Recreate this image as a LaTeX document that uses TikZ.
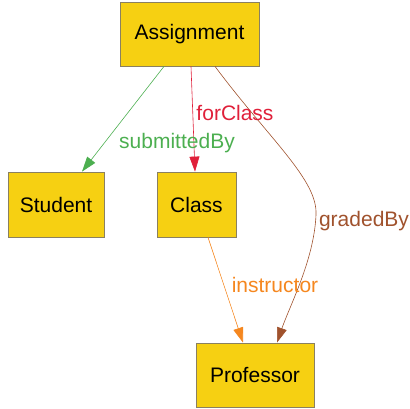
\documentclass[tikz,border=0pt]{standalone}
\usepackage{fontspec}
\setmainfont{Liberation Sans}
\usetikzlibrary{arrows.meta}
\definecolor{boxfill}{HTML}{F6D012}
\definecolor{boxline}{HTML}{8A8060}
\definecolor{cgreen}{HTML}{4CAF50}
\definecolor{cred}{HTML}{E0203A}
\definecolor{cbrown}{HTML}{A0522D}
\definecolor{corange}{HTML}{F5871F}
\tikzset{
  cls/.style={draw=boxline, fill=boxfill, line width=0.8pt, inner sep=0pt,
    font=\fontsize{21}{24}\selectfont, text=black},
  rel/.style={line width=0.6pt, -{Triangle[length=15pt,width=10pt]}},
  lbl/.style={font=\fontsize{21}{24}\selectfont, inner sep=0pt}
}
\begin{document}
\begin{tikzpicture}[x=1pt,y=-1pt]
\useasboundingbox (0,0) rectangle (410,408);
% classes
\node[cls, minimum width=139pt, minimum height=64pt] (asg) at (189.5,34) {Assignment};
\node[cls, minimum width=96pt, minimum height=65pt] (stu) at (56,204.5) {Student};
\node[cls, minimum width=79pt, minimum height=65pt] (cls) at (196.5,204.5) {Class};
\node[cls, minimum width=118pt, minimum height=64pt] (prof) at (255,375) {Professor};
% relations
\draw[rel, draw=cgreen] ([xshift=-25.5pt]asg.south) -- ([xshift=26pt]stu.north);
\draw[rel, draw=cred] ([xshift=1.5pt]asg.south) -- ([xshift=-1.5pt]cls.north);
\draw[rel, draw=cbrown] ([xshift=25.5pt]asg.south)
  .. controls (270,140) and (318,180) .. (316,215)
  .. controls (314,260) and (290,305) .. ([xshift=22pt]prof.north);
\draw[rel, draw=corange] ([xshift=11.5pt]cls.south) -- ([xshift=-12pt]prof.north);
% labels
\node[lbl, text=cgreen] (lsub) at (177,143) {submittedBy};
\node[lbl, text=cred] (lfor) at (235,113) {forClass};
\node[lbl, text=cbrown] (lgrd) at (364,221) {gradedBy};
\node[lbl, text=corange] (lins) at (275,285) {instructor};
\end{tikzpicture}
\end{document}
